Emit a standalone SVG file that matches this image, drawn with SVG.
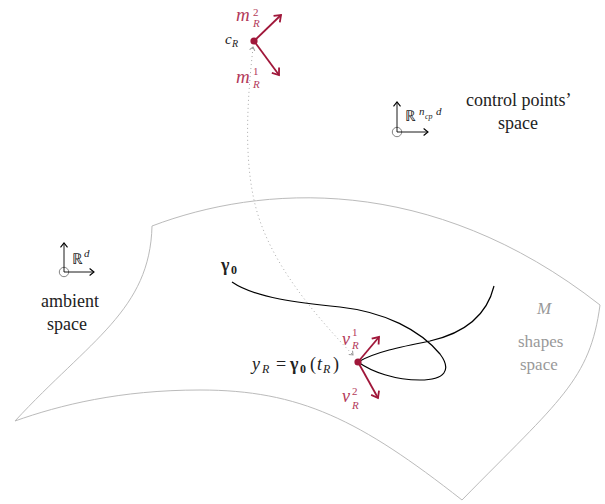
<svg xmlns="http://www.w3.org/2000/svg" width="605" height="504" viewBox="0 0 605 504">
<style>
.red{fill:#b33a5a}
.gray{fill:#999}
.k{fill:#222}
</style>
<defs>
<marker id="ra" markerUnits="userSpaceOnUse" markerWidth="12" markerHeight="12" refX="0" refY="0" viewBox="-8 -6 10 12" orient="auto">
<path d="M-6,-4.5 L0,0 L-6,4.5" fill="none" stroke="#a0173a" stroke-width="1.8"/>
</marker>
<marker id="ka" markerUnits="userSpaceOnUse" markerWidth="10" markerHeight="10" refX="0" refY="0" viewBox="-5 -4 6 8" orient="auto">
<path d="M-3.5,-2.8 L0,0 L-3.5,2.8" fill="none" stroke="#000" stroke-width="0.9"/>
</marker>
<marker id="ga" markerUnits="userSpaceOnUse" markerWidth="8" markerHeight="8" refX="0" refY="0" viewBox="-4 -3 5 6" orient="auto">
<path d="M-2.5,-2 L0,0 L-2.5,2" fill="none" stroke="#999" stroke-width="0.8"/>
</marker>
</defs>
<g id="manifold">
<path d="M152,226 C260,185 430,172 600,305 C590,380 560,400 462,500 C360,420 300,390 200,390 C120,390 60,405 15,421 C90,340 150,310 152,226 Z" fill="none" stroke="#bbb" stroke-width="1"/>
<text class="gray" x="537" y="314" font-size="17" font-family="Liberation Serif" font-style="italic">M</text>
<text class="gray" x="518" y="347" font-size="17" font-family="Liberation Serif">shapes</text>
<text class="gray" x="520" y="370" font-size="17" font-family="Liberation Serif">space</text>
</g>
<g id="connectors">
<path d="M253,48 C246,110 244,170 258,215 C275,270 320,320 352,354" fill="none" stroke="#aaa" stroke-width="1" stroke-dasharray="1 3"/>
<path d="M252.5,49 L253,47" fill="none" stroke="#999" stroke-width="0.8" marker-end="url(#ga)"/>
<path d="M351,353 L353,355" fill="none" stroke="#999" stroke-width="0.8" marker-end="url(#ga)"/>
</g>
<g id="curve">
<path d="M232,282 C255,298 300,303 340,307 C385,312 420,330 440,354 C452,370 445,380 420,380 C395,380 372,372 358,362 C375,352 400,347 430,341 C465,333 487,315 494,286" fill="none" stroke="#000" stroke-width="1.2"/>
<text class="k" x="221" y="271" font-size="18" font-family="Liberation Serif" font-weight="bold">γ</text>
<text class="k" x="231" y="274" font-size="12" font-family="Liberation Serif" font-weight="bold">0</text>
</g>
<g id="cR">
<line x1="254" y1="41" x2="281" y2="15" stroke="#a0173a" stroke-width="1.8" marker-end="url(#ra)"/>
<line x1="254" y1="41" x2="279" y2="75" stroke="#a0173a" stroke-width="1.8" marker-end="url(#ra)"/>
<circle cx="254" cy="41" r="3.6" fill="#a0173a"/>
<text class="k" x="225" y="44" font-size="15" font-family="Liberation Serif" font-style="italic">c</text>
<text class="k" x="232" y="47" font-size="10" font-family="Liberation Serif" font-style="italic">R</text>
<text class="red" x="236" y="21" font-size="19" font-family="Liberation Serif" font-style="italic">m</text>
<text class="red" x="253" y="16" font-size="11" font-family="Liberation Serif">2</text>
<text class="red" x="253" y="27" font-size="11" font-family="Liberation Serif" font-style="italic">R</text>
<text class="red" x="236" y="83" font-size="19" font-family="Liberation Serif" font-style="italic">m</text>
<text class="red" x="253" y="75" font-size="11" font-family="Liberation Serif">1</text>
<text class="red" x="253" y="88" font-size="11" font-family="Liberation Serif" font-style="italic">R</text>
</g>
<g id="yR">
<line x1="358" y1="362" x2="379" y2="337" stroke="#a0173a" stroke-width="1.8" marker-end="url(#ra)"/>
<line x1="358" y1="362" x2="378" y2="398" stroke="#a0173a" stroke-width="1.8" marker-end="url(#ra)"/>
<circle cx="358" cy="362" r="3.6" fill="#a0173a"/>
<text class="red" x="342" y="345" font-size="18" font-family="Liberation Serif" font-style="italic">v</text>
<text class="red" x="352" y="336" font-size="11" font-family="Liberation Serif">1</text>
<text class="red" x="352" y="349" font-size="11" font-family="Liberation Serif" font-style="italic">R</text>
<text class="red" x="342" y="402" font-size="18" font-family="Liberation Serif" font-style="italic">v</text>
<text class="red" x="352" y="395" font-size="11" font-family="Liberation Serif">2</text>
<text class="red" x="352" y="409" font-size="11" font-family="Liberation Serif" font-style="italic">R</text>
<text class="k" x="252" y="370" font-size="18" font-family="Liberation Serif" font-style="italic">y</text>
<text class="k" x="262" y="373" font-size="12" font-family="Liberation Serif" font-style="italic">R</text>
<text class="k" x="276" y="370" font-size="18" font-family="Liberation Serif">=</text>
<text class="k" x="290" y="370" font-size="18" font-family="Liberation Serif" font-weight="bold">γ</text>
<text class="k" x="300" y="373" font-size="12" font-family="Liberation Serif" font-weight="bold">0</text>
<text class="k" x="310" y="370" font-size="18" font-family="Liberation Serif">(</text>
<text class="k" x="317" y="370" font-size="18" font-family="Liberation Serif" font-style="italic">t</text>
<text class="k" x="323" y="373" font-size="12" font-family="Liberation Serif" font-style="italic">R</text>
<text class="k" x="333" y="370" font-size="18" font-family="Liberation Serif">)</text>
</g>
<g id="ambient">
<circle cx="64" cy="272" r="4.7" fill="none" stroke="#666" stroke-width="0.8"/>
<line x1="64" y1="272" x2="64" y2="243" stroke="#000" stroke-width="0.9" marker-end="url(#ka)"/>
<line x1="64" y1="272" x2="94" y2="272" stroke="#000" stroke-width="0.9" marker-end="url(#ka)"/>
<text class="k" x="72" y="264" font-size="15" font-family="Liberation Serif">ℝ</text>
<text class="k" x="84" y="257" font-size="11" font-family="Liberation Serif" font-style="italic">d</text>
<text class="k" x="41" y="307" font-size="18" font-family="Liberation Serif">ambient</text>
<text class="k" x="47" y="330" font-size="18" font-family="Liberation Serif">space</text>
</g>
<g id="controlpoints">
<circle cx="397" cy="132" r="4.7" fill="none" stroke="#666" stroke-width="0.8"/>
<line x1="397" y1="132" x2="397" y2="102" stroke="#000" stroke-width="0.9" marker-end="url(#ka)"/>
<line x1="397" y1="132" x2="428" y2="132" stroke="#000" stroke-width="0.9" marker-end="url(#ka)"/>
<text class="k" x="405" y="121" font-size="15" font-family="Liberation Serif">ℝ</text>
<text class="k" x="419" y="115" font-size="11" font-family="Liberation Serif" font-style="italic">n</text>
<text class="k" x="425" y="119" font-size="8" font-family="Liberation Serif" font-style="italic">cp</text>
<text class="k" x="436" y="115" font-size="11" font-family="Liberation Serif" font-style="italic">d</text>
<text class="k" x="466" y="106" font-size="18" font-family="Liberation Serif">control points’</text>
<text class="k" x="498" y="129" font-size="18" font-family="Liberation Serif">space</text>
</g>
</svg>
